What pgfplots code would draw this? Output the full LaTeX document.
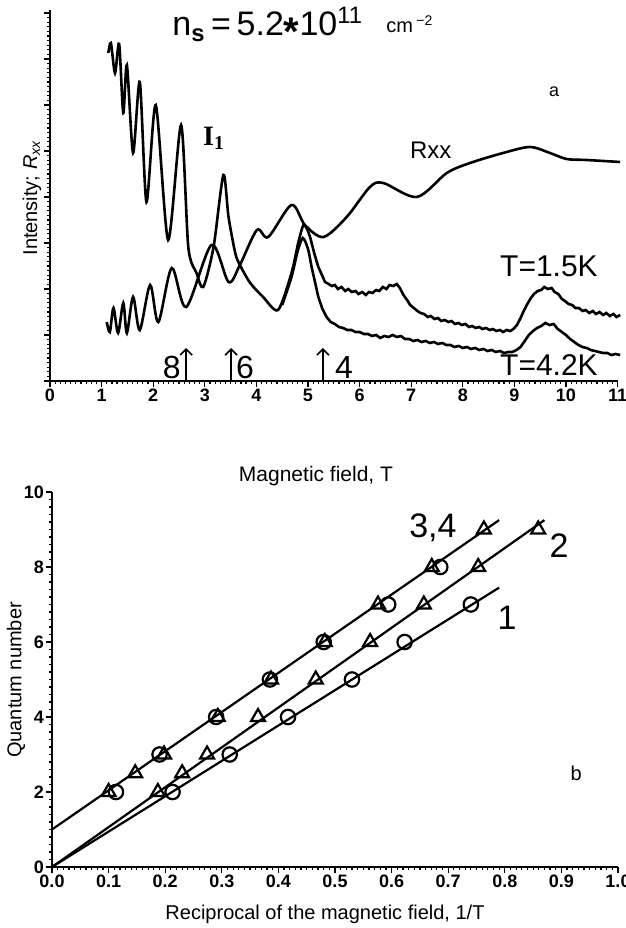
\documentclass[border=0pt]{standalone}
\usepackage{fontspec}
\setmainfont{Liberation Sans}
\newfontfamily\serifb{Liberation Serif}
\usepackage{pgfplots}
\pgfplotsset{compat=1.18}
\usetikzlibrary{arrows.meta}
\begin{document}
\begin{tikzpicture}
\path[use as bounding box] (0,0) rectangle (313pt,464pt);
% ---------------- top panel ----------------
\begin{axis}[
  at={(25pt,273.5pt)}, anchor=south west,
  width=283.8pt, height=185.5pt, scale only axis,
  xmin=0, xmax=11, ymin=0, ymax=371,
  axis x line=bottom, axis y line=left,
  axis line style={-, line width=0.9pt},
  xtick={0,...,11}, minor x tick num=9,
  ytick={0,46,...,368}, yticklabels={}, minor y tick num=9,
  tick align=outside, major tick length=2.8pt, minor tick length=1.6pt,
  every tick/.style={black, line width=0.6pt},
  /pgf/number format/assume math mode=true,
  xticklabel style={font=\bfseries\fontsize{9}{9}\selectfont, inner sep=1pt},
  clip=false,
]
% Rxx
\addplot[black, line width=1.3pt, smooth, tension=0.5] coordinates {
(1.10,59) (1.16,49) (1.23,73) (1.32,48) (1.42,78) (1.49,48) (1.61,84) (1.74,51)
(1.94,96) (2.10,59) (2.36,113) (2.64,74) (3.13,136) (3.46,99) (3.68,116) (4.01,151)
(4.23,144) (4.68,176) (4.94,156) (5.30,144) (5.75,164) (6.20,194) (6.46,198)
(7.11,184) (7.69,208) (8.14,218) (8.78,228) (9.30,234) (9.69,228) (10.01,222)
(10.40,221) (11.05,219)};
% I1, T=1.5K, low field
\addplot[black, line width=1.3pt, smooth, tension=0.45] coordinates {
(1.13,328) (1.18,338) (1.26,308) (1.34,337) (1.42,268) (1.49,316) (1.61,228)
(1.74,299) (1.87,179) (2.05,276) (2.29,141) (2.54,256) (2.68,134) (2.84,108)
(2.97,94) (3.17,134) (3.36,206) (3.46,164) (3.59,128) (3.68,116) (3.88,98)
(4.13,84) (4.42,71) (4.68,108) (4.81,138) (4.91,156) (4.98,152) (5.04,144)
(5.12,128) (5.20,114)};
% I1, T=1.5K, high field
\addplot[black, line width=1.3pt] coordinates {
(5.20,114) (5.27,106) (5.33,99) (5.40,97) (5.46,95) (5.52,96) (5.58,92) (5.65,94)
(5.72,90) (5.78,92) (5.85,89) (5.92,90) (5.98,87) (6.05,89) (6.12,86) (6.18,89)
(6.25,88) (6.32,91) (6.38,90) (6.45,94) (6.52,92) (6.58,96) (6.65,95) (6.72,97)
(6.78,93) (6.85,86) (6.92,81) (6.98,76) (7.05,73) (7.12,70) (7.18,68) (7.25,67)
(7.32,64) (7.38,65) (7.45,62) (7.52,63) (7.58,60) (7.65,61) (7.72,59) (7.78,60)
(7.85,57) (7.92,58) (7.98,56) (8.05,57) (8.12,54) (8.18,55) (8.25,53) (8.32,54)
(8.38,52) (8.45,53) (8.52,51) (8.58,52) (8.65,50) (8.72,51) (8.78,49) (8.85,51)
(8.92,50) (8.98,52) (9.05,56) (9.12,63) (9.18,70) (9.25,77) (9.32,83) (9.38,87)
(9.45,90) (9.52,91) (9.58,94) (9.65,92) (9.72,93) (9.78,89) (9.85,87) (9.92,82)
(9.98,80) (10.05,77) (10.12,76) (10.18,73) (10.25,73) (10.32,70) (10.38,71)
(10.45,68) (10.52,70) (10.58,67) (10.65,69) (10.72,66) (10.78,68) (10.85,65)
(10.92,67) (10.98,64) (11.05,66)};
% I1, T=4.2K
\addplot[black, line width=1.3pt, smooth, tension=0.45] coordinates {
(4.50,76) (4.68,104) (4.80,130) (4.90,143) (5.00,132) (5.07,114) (5.14,98) (5.20,84)};
\addplot[black, line width=1.3pt] coordinates {
(5.20,84) (5.28,72) (5.36,64) (5.44,59) (5.52,57) (5.60,54) (5.68,53) (5.76,51)
(5.84,51) (5.92,49) (6.00,49) (6.08,47) (6.16,47) (6.24,45) (6.32,46) (6.40,43)
(6.48,45) (6.56,44) (6.64,46) (6.72,44) (6.80,45) (6.88,42) (6.96,42) (7.04,40)
(7.12,41) (7.20,39) (7.28,40) (7.36,38) (7.44,39) (7.52,37) (7.60,38) (7.68,36)
(7.76,36) (7.84,34) (7.92,35) (8.00,33) (8.08,34) (8.16,32) (8.24,33) (8.32,31)
(8.40,32) (8.48,30) (8.56,31) (8.64,29) (8.72,30) (8.80,28) (8.88,29) (8.96,29)
(9.04,31) (9.12,34) (9.20,40) (9.28,46) (9.36,50) (9.44,53) (9.52,55) (9.60,58)
(9.68,56) (9.76,57) (9.84,52) (9.92,49) (10.00,46) (10.08,42) (10.16,39)
(10.24,36) (10.32,34) (10.40,33) (10.48,31) (10.56,30) (10.64,29) (10.72,28)
(10.80,28) (10.88,26) (10.96,27) (11.05,26)};
% annotations
\node[font=\fontsize{9}{9}\selectfont] at (axis cs:9.77,289) {a};
\node[font=\serifb\bfseries\fontsize{14}{14}\selectfont] at (axis cs:3.18,243) {I\textsubscript{1}};
\node[font=\fontsize{12}{12}\selectfont] at (axis cs:7.38,231) {Rxx};
\node[font=\fontsize{15}{15}\selectfont] at (axis cs:9.67,115) {T=1.5K};
\node[font=\fontsize{15}{15}\selectfont] at (axis cs:9.67,16) {T=4.2K};
\draw[-{Straight Barb[length=3pt]}, line width=0.8pt] (axis cs:2.64,1) -- (axis cs:2.64,33);
\draw[-{Straight Barb[length=3pt]}, line width=0.8pt] (axis cs:3.51,1) -- (axis cs:3.51,33);
\draw[-{Straight Barb[length=3pt]}, line width=0.8pt] (axis cs:5.29,1) -- (axis cs:5.29,33);
\node[font=\fontsize{16}{16}\selectfont] at (axis cs:2.36,14) {8};
\node[font=\fontsize{16}{16}\selectfont] at (axis cs:3.78,14) {6};
\node[font=\fontsize{16}{16}\selectfont] at (axis cs:5.70,14) {4};
\end{axis}
\node[font=\fontsize{17}{17}\selectfont, anchor=base west, inner sep=0pt] at (86pt,446pt)
  {n\textsubscript{\bfseries s}\,=\,5.2{\fontsize{20}{20}\selectfont\bfseries\raisebox{-0.45ex}{*}}10\textsuperscript{11}};
\node[font=\fontsize{10}{10}\selectfont, anchor=base west, inner sep=0pt] at (193pt,447.5pt) {cm\,\textsuperscript{−2}};
\node[rotate=90, font=\fontsize{10}{10}\selectfont] at (16pt,365pt) {Intensity; \textit{R}\textsubscript{\itshape xx}};
\node[font=\fontsize{10.5}{10.5}\selectfont] at (158pt,226pt) {Magnetic field, T};
% ---------------- bottom panel ----------------
\begin{axis}[
  at={(26pt,30.5pt)}, anchor=south west,
  width=283pt, height=187.5pt, scale only axis,
  xmin=0, xmax=1, ymin=0, ymax=10,
  axis x line=bottom, axis y line=left,
  axis line style={-, line width=0.9pt},
  xtick={0,0.1,...,1.0}, minor x tick num=9,
  ytick={0,2,...,10}, minor y tick num=9,
  tick align=outside, major tick length=2.8pt, minor tick length=1.6pt,
  every tick/.style={black, line width=0.6pt},
  /pgf/number format/assume math mode=true,
  xticklabel style={font=\bfseries\fontsize{9}{9}\selectfont, inner sep=1pt,
    /pgf/number format/.cd, fixed, fixed zerofill, precision=1},
  yticklabel style={font=\bfseries\fontsize{9}{9}\selectfont, inner sep=1pt},
  clip=false,
]
\addplot[black, line width=1.1pt] coordinates {(0,1) (0.79,9.25)};
\addplot[black, line width=1.1pt] coordinates {(0,0) (0.87,9.25)};
\addplot[black, line width=1.1pt] coordinates {(0,0) (0.79,7.45)};
\addplot[only marks, mark=triangle, mark size=4pt, line width=1.1pt, black] coordinates {
(0.10,2) (0.147,2.5) (0.198,3) (0.293,4) (0.387,5) (0.482,6) (0.576,7) (0.671,8) (0.763,9)};
\addplot[only marks, mark=o, mark size=3.6pt, line width=1.1pt, black] coordinates {
(0.113,2) (0.19,3) (0.29,4) (0.385,5) (0.48,6) (0.594,7) (0.686,8)};
\addplot[only marks, mark=triangle, mark size=4pt, line width=1.1pt, black] coordinates {
(0.187,2) (0.23,2.5) (0.274,3) (0.364,4) (0.466,5) (0.562,6) (0.657,7) (0.753,8) (0.859,9)};
\addplot[only marks, mark=o, mark size=3.6pt, line width=1.1pt, black] coordinates {
(0.213,2) (0.314,3) (0.417,4) (0.53,5) (0.623,6) (0.74,7)};
\node[font=\fontsize{17}{17}\selectfont] at (axis cs:0.673,9.04) {3,4};
\node[font=\fontsize{17}{17}\selectfont] at (axis cs:0.896,8.56) {2};
\node[font=\fontsize{17}{17}\selectfont] at (axis cs:0.804,6.64) {1};
\node[font=\fontsize{10}{10}\selectfont] at (axis cs:0.926,2.5) {b};
\end{axis}
\node[rotate=90, font=\fontsize{10}{10}\selectfont] at (8pt,124pt) {Quantum number};
\node[font=\fontsize{10}{10}\selectfont] at (162.5pt,7pt) {Reciprocal of the magnetic field, 1/T};
\end{tikzpicture}
\end{document}
